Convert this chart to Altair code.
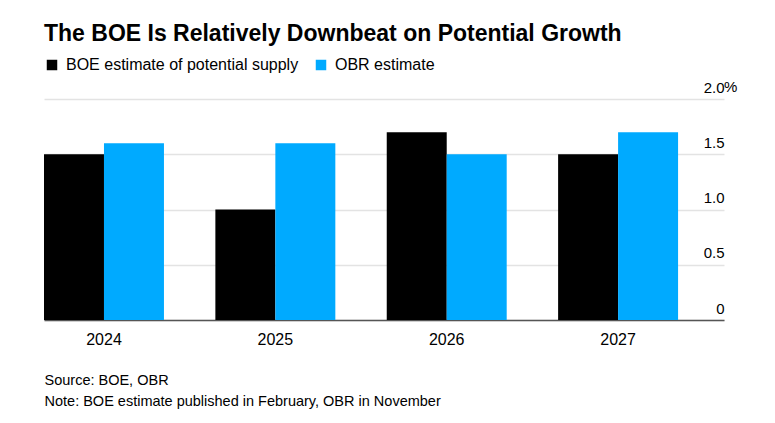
import altair as alt
import pandas as pd

years = ["2024", "2025", "2026", "2027"]
boe_values = [1.5, 1.0, 1.7, 1.5]
obr_values = [1.6, 1.6, 1.5, 1.7]
series_names = ["BOE estimate of potential supply", "OBR estimate"]
series_colors = ["#000000", "#00AAFF"]
y_ticks = [0, 0.5, 1.0, 1.5, 2.0]
title_text = "The BOE Is Relatively Downbeat on Potential Growth"
footer_lines = ["Source: BOE, OBR", "Note: BOE estimate published in February, OBR in November"]

rows = []
for i, yr in enumerate(years):
    rows.append({"year": yr, "series": series_names[0], "value": boe_values[i]})
    rows.append({"year": yr, "series": series_names[1], "value": obr_values[i]})
df = pd.DataFrame(rows)

W, H = 680, 221

bars = alt.Chart(df).mark_bar().encode(
    x=alt.X(
        "year:N",
        sort=years,
        scale=alt.Scale(paddingInner=0.3, paddingOuter=0.134, align=0),
        axis=alt.Axis(
            title=footer_lines,
            titleAnchor="start",
            titleAlign="left",
            titleBaseline="top",
            titleFont="Liberation Sans",
            titleFontSize=14.5,
            titleFontWeight="normal",
            titleColor="#000000",
            titleLineHeight=21,
            titlePadding=26,
            labelAngle=0,
            labelFont="Liberation Sans",
            labelFontSize=16,
            labelColor="#000000",
            labelPadding=11,
            ticks=False,
            domain=True,
            domainColor="#555555",
            domainWidth=1.5,
            grid=False,
        ),
    ),
    xOffset=alt.XOffset("series:N", sort=series_names,
                        scale=alt.Scale(paddingInner=0, paddingOuter=0)),
    y=alt.Y(
        "value:Q",
        scale=alt.Scale(domain=[0, 2]),
        axis=alt.Axis(
            title=None,
            orient="right",
            values=y_ticks,
            labelExpr="datum.value == 0 ? '0' : format(datum.value, '.1f')",
            labelAlign="right",
            labelBaseline="bottom",
            labelOffset=-4,
            labelPadding=0,
            labelFont="Liberation Sans",
            labelFontSize=15,
            labelColor="#000000",
            ticks=False,
            tickSize=0,
            domain=False,
            grid=True,
            gridColor="#e3e3e3",
            gridWidth=1.5,
        ),
    ),
    color=alt.Color(
        "series:N",
        scale=alt.Scale(domain=series_names, range=series_colors),
        legend=alt.Legend(
            orient="top",
            direction="horizontal",
            title=None,
            symbolType="square",
            symbolSize=110,
            symbolStrokeWidth=0,
            labelFont="Liberation Sans",
            labelFontSize=16,
            labelColor="#000000",
            labelLimit=0,
            columnPadding=14,
            labelOffset=6,
            offset=26,
        ),
    ),
)

pct = alt.Chart(pd.DataFrame({"v": [2.0]})).mark_text(
    text="%", align="left", baseline="bottom", dy=-4,
    font="Liberation Sans", fontSize=15, color="#000000"
).encode(y=alt.Y("v:Q"), x=alt.value(W))

chart = alt.layer(bars, pct).properties(
    width=W,
    height=H,
    padding={"left": 36, "top": 15, "right": 5, "bottom": 5},
    title=alt.Title(
        title_text,
        anchor="start",
        font="Liberation Sans",
        fontSize=23,
        fontWeight="bold",
        color="#000000",
        offset=11,
    ),
).configure_view(stroke=None)

chart.save("out.html", embed_options={"renderer": "svg", "actions": False})
